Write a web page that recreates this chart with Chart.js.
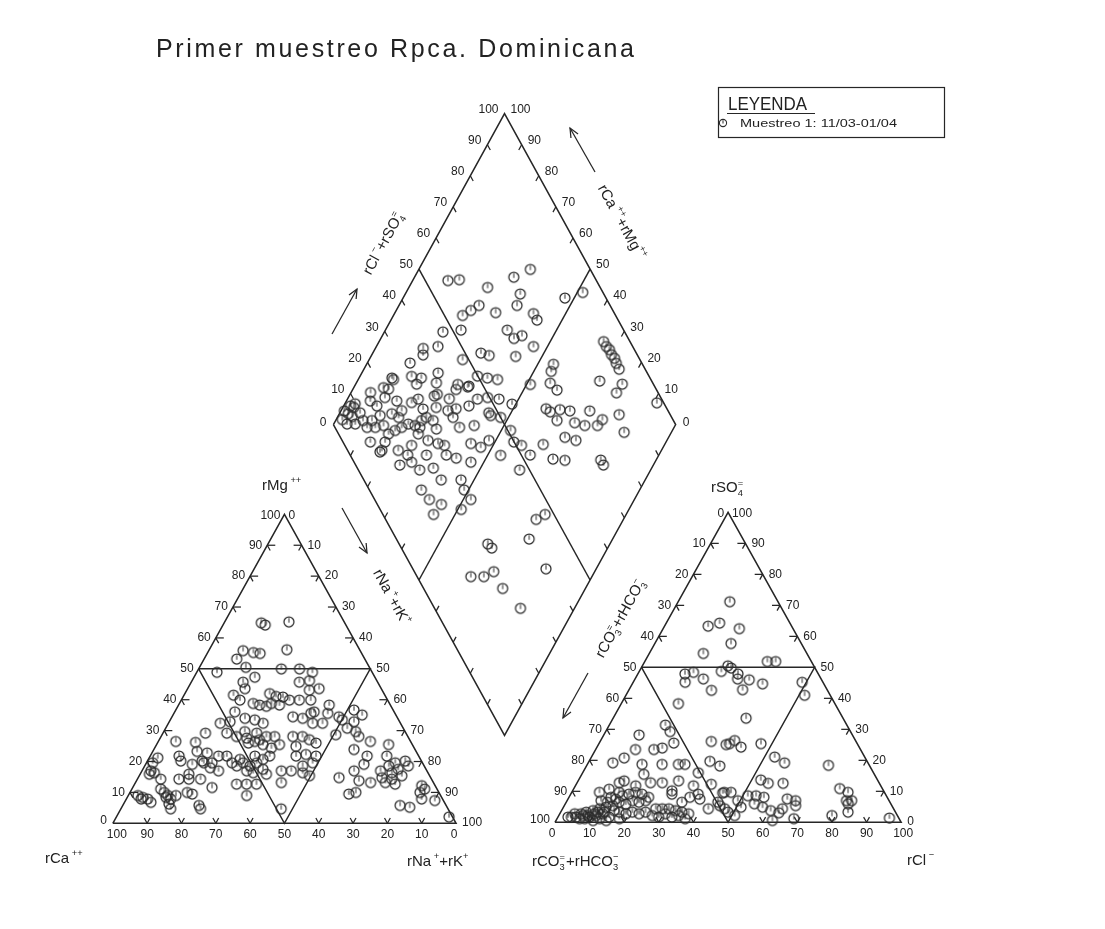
<!DOCTYPE html>
<html><head><meta charset="utf-8">
<script src="https://cdn.jsdelivr.net/npm/chart.js@4.4.1/dist/chart.umd.min.js"></script>
<style>html,body{margin:0;padding:0;background:#fff}#wrap{width:1105px;height:929px}</style>
</head><body><div id="wrap"><canvas id="c" width="1105" height="929"></canvas></div>
<script>
// ================= DATA (percent, meq) =================
const titleText = 'Primer muestreo Rpca. Dominicana';
const legendTitle = 'LEYENDA';
const legendEntry = 'Muestreo 1: 11/03-01/04';
const tickValues = [0,10,20,30,40,50,60,70,80,90,100];
// cation triangle samples: [rMg %, rNa+rK %]  (rCa = remainder)
const cationMgNaK = [
[48.9,5.9],[50.5,13.5],[50.0,24.1],[50.0,29.4],[48.9,33.7],[53.2,9.5],[45.7,15.1],[47.3,17.7],[43.6,16.7],[42.0,24.7],[41.1,27.0],[40.9,29.1],[38.8,26.8],[38.3,29.4],[39.9,31.5],[39.9,34.4],[43.1,35.7],[39.9,37.7],[43.6,38.3],[41.5,14.4],[39.9,17.1],[38.8,21.5],[38.3,23.6],[37.9,25.8],[36.1,17.5],[32.4,15.1],[32.9,17.7],[34.0,21.5],[33.5,24.6],[32.4,27.6],[34.5,35.2],[34.0,38.3],[35.6,39.9],[32.4,42.0],[29.2,18.6],[28.1,22.0],[29.7,23.6],[27.6,25.2],[29.2,27.3],[27.1,29.2],[28.1,30.7],[28.1,33.1],[25.5,35.8],[24.4,34.0],[25.5,31.0],[26.5,28.1],[26.0,26.5],[28.1,38.4],[24.9,40.9],[28.1,41.2],[27.1,43.7],[26.0,46.2],[21.8,42.5],[22.3,45.1],[21.8,48.3],[18.6,46.0],[19.6,48.4],[16.4,47.1],[15.4,49.6],[21.8,22.3],[19.6,24.9],[18.6,26.8],[19.6,28.2],[18.6,30.7],[19.6,32.1],[20.7,33.4],[21.8,34.8],[17.5,35.0],[16.4,32.7],[17.0,30.5],[20.7,26.7],[21.8,30.5],[12.7,29.7],[12.7,32.6],[9.0,34.5],[12.7,35.5],[15.9,36.8],[17.0,40.6],[13.2,42.5],[17.0,43.5],[4.7,46.7],[26.5,5.1],[26.2,11.0],[29.2,12.4],[23.3,12.9],[22.8,16.1],[21.8,19.9],[19.6,19.1],[17.0,22.3],[19.6,16.7],[21.2,2.5],[19.6,1.8],[17.0,2.6],[15.9,2.7],[16.4,3.9],[14.3,6.8],[21.8,8.4],[20.2,9.7],[19.1,13.6],[20.2,15.9],[18.0,19.4],[14.3,12.1],[14.3,15.0],[14.3,18.4],[11.6,23.1],[15.9,14.2],[9.0,2.8],[8.4,4.5],[7.9,6.2],[6.8,7.7],[7.9,4.3],[11.1,8.4],[10.0,10.0],[9.0,11.5],[7.9,12.9],[8.4,11.3],[6.3,13.2],[9.0,13.9],[4.7,14.5],[10.0,16.7],[9.5,18.4],[5.8,22.2],[4.7,23.2],
[64.9,10.8],[64.2,12.3],[65.2,18.7],[55.9,10.0],[55.3,13.3],[55.0,15.4],[56.2,22.6],
[45.7,31.5],[46.2,34.2],[38.3,43.9],[36.1,40.6],[35.6,44.8],[34.5,48.6],[33.5,50.1],[32.4,44.9],[36.7,51.9],[35.1,55.1],[32.9,53.8],[30.8,52.9],[29.7,55.9],[28.1,57.6],[26.5,61.8],[23.9,58.3],[28.7,50.6],[21.8,63.2],[19.1,63.6],[17.0,61.8],[14.8,58.5],[13.8,64.8],[13.2,68.5],[9.5,64.0],[10.0,65.8],[17.0,69.5],[21.8,68.9],[18.6,71.1],[16.4,73.1],[19.6,72.5],[17.5,74.4],[15.4,76.5],[14.3,74.1],[13.2,72.8],[14.8,71.0],[12.7,75.9],[20.2,75.1],[18.6,76.8],[25.5,67.6],[12.2,83.9],[10.0,84.5],[11.1,85.3],[7.9,86.0],[7.4,90.1],[5.8,80.8],[5.2,83.9],[2.1,96.9]
];
// anion triangle samples: [rSO4 %, rCl %]  (rCO3+rHCO3 = remainder)
const anionSO4Cl = [
[71.2,14.9],[63.3,12.6],[64.3,15.4],[62.5,22.0],[57.7,22.0],[54.5,15.6],[51.9,35.4],[51.9,37.8],[50.5,24.7],[49.8,26.0],[48.7,23.7],[47.9,28.9],
[47.9,13.6],[48.4,15.8],[46.3,19.7],[45.2,15.0],[42.6,23.9],[38.3,16.5],[31.4,16.2],[29.3,18.6],[28.2,10.2],[25.6,21.5],[26.1,32.1],[25.1,36.9],[24.0,19.0],[23.5,16.8],[23.5,11.5],[20.8,9.6],[18.7,15.8],[19.2,7.1],[18.7,21.6],[18.7,26.3],[18.7,28.2],[19.7,34.9],[18.2,38.5],[16.0,33.4],[13.4,29.0],[12.8,24.6],[12.8,21.2],[11.8,17.4],[13.4,13.3],[12.8,12.2],[15.5,17.9],[9.7,8.0],[10.7,10.3],[9.7,13.7],[10.2,28.7],[9.1,29.2],[11.8,34.1],[12.3,39.0],[9.1,36.8],[4.4,42.1],[6.5,33.4],[8.1,34.9],[7.5,38.1],[9.7,44.1],[5.4,44.9],
[1.7,2.9],[1.7,5.3],[2.2,7.0],[1.7,9.1],[2.2,10.8],[2.8,12.4],[1.7,14.8],[3.3,7.4],[3.8,9.1],[4.4,10.7],[4.9,12.3],[5.4,14.0],[6.5,15.3],[5.9,17.5],[7.0,18.9],[6.5,21.0],[7.0,22.7],[3.3,16.9],[2.8,19.1],[3.3,20.7],[2.8,22.9],[3.3,24.5],[2.2,27.0],[1.7,29.1],[2.8,30.5],[1.7,32.9],[2.2,34.6],[1.2,37.0],[8.1,12.1],[7.5,13.8],[8.6,15.2],[9.1,16.8],[9.7,18.4],[9.1,20.6],[8.1,23.0],[4.4,26.9],[4.4,28.8],[4.4,30.7],[3.8,32.9],[3.3,35.0],[2.8,37.2],[1.2,6.5],[2.8,4.3],[1.2,12.3],[0.6,14.5],[0.6,10.7],[1.2,18.0],[2.8,6.2],[2.2,8.4],[2.8,10.0],[1.2,8.0],[3.3,10.7],[3.3,12.6],[1.7,3.9],[3.8,15.2],[6.5,11.9],[7.0,9.8],
[46.3,29.6],[46.0,33.1],[44.7,37.6],[42.8,32.8],[45.2,48.8],[41.0,51.6],[33.6,38.4],[25.4,37.7],[26.4,38.7],[24.3,41.6],[25.4,46.8],[21.1,52.9],[19.2,56.7],[18.4,69.8],[13.7,52.6],[12.6,55.3],[12.6,59.6],[9.5,43.7],[9.7,46.0],[7.0,49.3],[8.6,51.4],[8.6,53.8],[8.1,56.3],[6.0,54.6],[4.9,57.5],[7.6,63.3],[7.0,66.0],[5.4,66.8],[3.8,60.4],[3.1,63.1],[4.4,63.5],[0.6,62.5],[1.2,68.4],[2.2,78.9],[10.9,76.8],[9.7,79.8],[7.0,80.7],[7.0,82.2],[6.0,81.7],[3.3,83.0],[1.4,95.9],[6.5,43.8],[4.4,46.8],[3.3,48.3],[2.2,50.8],[4.9,51.3]
];
// diamond samples: [rNa+rK %, rCl+rSO4 %]
const diamondNaKClSO4 = [
[10.3,56.6],[13.5,60.1],[23.0,67.1],[20.2,55.3],[21.8,58.5],[23.4,61.7],[29.4,65.4],[17.1,46.9],[22.1,52.5],[14.0,38.5],[15.0,37.4],[18.0,43.1],[27.3,48.2],[31.6,54.6],[34.4,56.6],[29.0,76.4],[32.6,82.5],[33.6,75.6],[34.5,72.8],[40.6,76.3],[42.7,76.3],[35.6,66.0],[38.9,66.6],[40.8,69.4],[45.9,71.0],[42.3,64.2],[34.3,49.9],[37.5,52.5],[40.7,55.2],[33.2,45.3],[22.3,38.9],[23.4,36.8],[25.5,35.2],[15.1,30.6],[10.3,24.8],[29.9,42.8],[30.2,41.5],[29.7,38.0],[33.3,38.4],[33.4,45.8],[36.6,42.6],[38.0,46.2],[40.7,49.4],[44.3,52.5],[43.5,47.3],[44.5,47.4],[47.7,50.0],[48.9,55.5],[51.1,64.0],[52.7,50.8],[55.5,49.9],[41.3,41.0],[43.2,37.1],[48.0,42.9],[37.3,36.4],[33.8,36.1],[31.2,35.7],[24.9,34.1],[27.3,32.8],
[3.2,8.7],[2.0,8.0],[3.0,9.7],[3.9,4.1],[6.3,6.5],[13.6,8.0],[18.0,9.2],[18.3,10.0],[23.1,14.8],[26.2,19.5],[7.0,14.6],[9.7,15.7],[12.2,15.1],[10.6,11.9],[10.3,9.4],[12.7,11.8],[14.8,14.5],[15.3,18.8],[17.9,20.2],[17.7,22.2],[14.7,22.3],[10.7,19.4],[19.3,26.4],[20.7,28.9],[23.7,28.7],[25.1,26.4],[26.0,28.3],[28.5,29.8],[30.8,29.4],[24.0,23.7],[26.3,23.3],[25.7,24.8],[21.8,22.0],[20.4,19.5],[19.0,17.1],[17.6,14.6],[17.9,12.3],[30.2,25.1],[33.6,27.5],[35.8,29.1],[9.6,24.6],[8.7,20.6],[10.4,21.8],[5.7,16.0],[12.5,32.3],[17.8,30.8],[18.2,33.2],
[26.6,16.8],[32.5,17.9],[36.2,22.2],[40.4,22.6],[40.1,16.0],[43.7,14.8],[44.4,18.7],[46.2,28.4],[48.7,27.7],[52.2,28.1],[51.0,23.7],[36.2,15.2],[37.9,28.1],[41.3,30.5],[46.2,34.1],[46.7,39.4],[53.8,43.9],[25.9,12.9],[28.9,16.8],[32.1,22.3],
[64.3,25.9],[66.1,26.4],[68.4,19.5],[64.6,15.7],[70.5,23.2],[84.2,25.1],[75.8,23.1],[85.3,38.9],[75.6,38.8],[76.3,47.4],[74.5,44.0],
[47.3,88.0],[51.6,94.1],[54.6,74.0],[65.6,92.3],[67.2,92.3],[68.6,92.7],[70.0,92.5],[71.5,92.8],[72.8,92.5],[74.6,92.4],[77.9,90.9],[70.8,84.8],[77.6,87.8],[56.7,70.0],[59.8,70.9],[59.6,64.7],[61.3,65.4],[63.8,68.6],[66.9,71.3],[64.7,66.0],[70.2,70.8],[73.6,73.3],[69.7,65.6],[73.4,68.3],[72.7,77.1],[77.3,77.0],[77.8,79.4],[81.9,85.1],[86.2,83.7],[83.8,72.4],[85.4,72.4],[73.4,61.9],[69.7,58.6],[64.5,58.1],[62.4,52.6],[58.3,51.6],[61.7,47.1],[91.0,98.0],[55.1,72.2],
[1.0,5.4],[2.6,6.1],[4.2,6.8],[5.9,9.7],[8.0,9.3],[1.8,3.4]
];

// ================= LAYOUT (page units = px) =================
const CAT = {L:[108,828], R:[455,828], T:[281.5,515]};
const AN  = {L:[555,827], R:[905,827], T:[730,513]};
const DIA = {L:[331,424], T:[504,109], B:[504,739]};
const INK = '#262626';
const FONT = '"Liberation Sans", Arial, sans-serif';
function fnt(sz, w){ return (w||'normal') + ' ' + sz + 'px ' + FONT; }

function tern(G, wl, wr, wt){ // weights in percent for L, R, T corners
  return {x:(G.L[0]*wl + G.R[0]*wr + G.T[0]*wt)/100, y:(G.L[1]*wl + G.R[1]*wr + G.T[1]*wt)/100};
}
function dia(u, v){ // u = rCl+rSO4 %, v = rNa+rK %
  return {x: DIA.L[0] + (DIA.T[0]-DIA.L[0])*u/100 + (DIA.B[0]-DIA.L[0])*v/100,
          y: DIA.L[1] + (DIA.T[1]-DIA.L[1])*u/100 + (DIA.B[1]-DIA.L[1])*v/100};
}
const catPts = cationMgNaK.map(d => tern(CAT, 100-d[0]-d[1], d[1], d[0]));
const anPts  = anionSO4Cl.map(d => tern(AN, 100-d[0]-d[1], d[1], d[0]));
const diaPts = diamondNaKClSO4.map(d => dia(d[1], d[0]));

function makeMarker(r, lw){
  const s = Math.ceil(r*2+4), c = document.createElement('canvas'); c.width = s; c.height = s;
  const g = c.getContext('2d'); g.strokeStyle = '#2c2c2c'; g.lineWidth = lw;
  g.beginPath(); g.arc(s/2, s/2, r, 0, Math.PI*2); g.stroke();
  g.lineWidth = 1;
  g.beginPath(); g.moveTo(s/2, s/2 - r*0.75); g.lineTo(s/2, s/2 + r*0.15); g.stroke();
  return c;
}
const marker = makeMarker(5, 1.25);
const markerSmall = makeMarker(3.6, 1.1);

function lineDS(pts){ return {data:pts, showLine:true, pointRadius:0, borderColor:INK, borderWidth:1.5, tension:0, fill:false, order:2}; }
function ptsDS(pts){ return {data:pts, showLine:false, pointStyle:marker, pointRadius:5, order:1}; }

const frames = [];
[CAT, AN].forEach(G => {
  frames.push(lineDS([tern(G,100,0,0), tern(G,0,100,0), tern(G,0,0,100), tern(G,100,0,0)]));
  frames.push(lineDS([tern(G,50,0,50), tern(G,0,50,50), tern(G,50,50,0), tern(G,50,0,50)]));
});
frames.push(lineDS([dia(0,0), dia(100,0), dia(100,100), dia(0,100), dia(0,0)]));
frames.push(lineDS([dia(50,0), dia(50,100)]));
frames.push(lineDS([dia(0,50), dia(100,50)]));

function unit(a, b){ const dx=b[0]-a[0], dy=b[1]-a[1], l=Math.hypot(dx,dy); return [dx/l, dy/l]; }

function segW(ctx, s, size){
  if (s[1]==='s'){ ctx.font = fnt(size*0.62); return Math.max(ctx.measureText(s[0]).width, ctx.measureText(s[2]).width)+1; }
  ctx.font = fnt(s[1]==='n' ? size : size*0.62); return ctx.measureText(s[0]).width;
}
function drawRich(ctx, segs, x, y, size, align){
  const w = segs.reduce((a,s)=>a+segW(ctx,s,size),0);
  let cx = align==='center' ? x - w/2 : (align==='right' ? x - w : x);
  ctx.textAlign = 'left'; ctx.textBaseline = 'alphabetic';
  for (const s of segs){
    const sw = segW(ctx,s,size);
    if (s[1]==='n'){ ctx.font = fnt(size); ctx.fillText(s[0], cx, y); }
    else if (s[1]==='p'){ ctx.font = fnt(size*0.62); ctx.fillText(s[0], cx, y - size*0.48); }
    else if (s[1]==='b'){ ctx.font = fnt(size*0.62); ctx.fillText(s[0], cx, y + size*0.22); }
    else { ctx.font = fnt(size*0.62); ctx.fillText(s[0], cx, y - size*0.42); ctx.fillText(s[2], cx, y + size*0.25); }
    cx += sw;
  }
}

const decor = {
  id: 'decor',
  beforeDraw(chart){ const c = chart.ctx; c.save(); c.fillStyle = '#fff'; c.fillRect(0,0,chart.width,chart.height); c.restore(); },
  afterDatasetsDraw(chart){
    const ctx = chart.ctx, sx = chart.scales.x, sy = chart.scales.y;
    const P = p => [sx.getPixelForValue(p.x), sy.getPixelForValue(p.y)];
    ctx.save();
    ctx.strokeStyle = INK; ctx.fillStyle = '#222'; ctx.lineWidth = 1.25;
    const seg = (a, d, len) => { ctx.beginPath(); ctx.moveTo(a[0], a[1]); ctx.lineTo(a[0]+d[0]*len, a[1]+d[1]*len); ctx.stroke(); };
    const text = (t, x, y, align, base, size) => { ctx.font = fnt(size||12); ctx.textAlign = align; ctx.textBaseline = base||'middle'; ctx.fillText(t, x, y); };

    // ---- triangles: ticks + labels ----
    [CAT, AN].forEach((G, gi) => {
      const L = P(tern(G,100,0,0)), R = P(tern(G,0,100,0)), T = P(tern(G,0,0,100));
      const dTR = unit(T,R), dTL = unit(T,L), dLT = unit(L,T), dRT = unit(R,T);
      tickValues.forEach(k => {
        const pl = gi===0 ? P(tern(G,100-k,0,k)) : P(tern(G,k,0,100-k));
        const pr = gi===0 ? P(tern(G,0,k,100-k)) : P(tern(G,0,100-k,k));
        const pb = gi===0 ? P(tern(G,k,100-k,0)) : P(tern(G,100-k,k,0));
        if (k>0 && k<100 && k!==50){
          seg(pl,[1,0],8); seg(pl,dTR,6);
          seg(pr,[-1,0],8); seg(pr,dTL,6);
          seg(pb,dRT,6); seg(pb,dLT,6);
        }
        const lab = String(k);
        if (gi===0){
          if (k===100) text(lab, pl[0]-4, pl[1]+1, 'right');
          else if (k===0) text(lab, pl[0]-6, pl[1]-3, 'right');
          else text(lab, pl[0]-5, pl[1], 'right');
        } else {
          if (k===0) text(lab, pl[0]-4, pl[1]+1, 'right');
          else if (k===100) text(lab, pl[0]-5, pl[1]-3, 'right');
          else text(lab, pl[0]-5, pl[1], 'right');
        }
        if ((gi===0 && k===0) || (gi===1 && k===100)) text(lab, pr[0]+4, pr[1]+1, 'left');
        else if ((gi===0 && k===100) || (gi===1 && k===0)) text(lab, pr[0]+6, pr[1]-1, 'left');
        else text(lab, pr[0]+6, pr[1], 'left');
        let bx = pb[0];
        if (gi===0 && k===100) bx += 4;
        if (gi===1 && k===0) bx -= 3;
        if (gi===0 && k===0) bx -= 2;
        if (gi===1 && k===100) bx += 2;
        text(lab, bx, pb[1]+5, 'center', 'top');
      });
    });

    // ---- diamond ticks + labels ----
    const dL = P(dia(0,0)), dT = P(dia(100,0)), dB = P(dia(0,100));
    const uIso = unit(dL, dB), vIso = unit(dL, dT);
    tickValues.forEach(k => {
      if (k>0 && k<100 && k!==50){
        seg(P(dia(k,0)), uIso, 6);
        seg(P(dia(100,k)), [-vIso[0], -vIso[1]], 6);
        seg(P(dia(0,k)), vIso, 6);
        seg(P(dia(k,100)), [-uIso[0], -uIso[1]], 6);
      }
      const a = P(dia(k,0));
      if (k===0) text('0', a[0]-7, a[1]-2, 'right');
      else text(String(k), a[0]-6, a[1]-4, 'right');
      const b = P(dia(100, 100-k));
      if (k===0) text('0', b[0]+7, b[1]-2, 'left');
      else text(String(k), b[0]+6, b[1]-4, 'left');
    });

    // ---- axis names ----
    const S = 15;
    drawRich(ctx, [['rMg','n'],[' ++','p']], 262, 490, S, 'left');
    drawRich(ctx, [['rCa','n'],[' ++','p']], 45, 863, S, 'left');
    drawRich(ctx, [['rNa','n'],[' +','p'],['+rK','n'],['+','p']], 407, 866, S, 'left');
    drawRich(ctx, [['rSO','n'],['=','s','4']], 711, 492, S, 'left');
    drawRich(ctx, [['rCO','n'],['=','s','3'],['+rHCO','n'],['−','s','3']], 532, 866, S, 'left');
    drawRich(ctx, [['rCl','n'],[' −','p']], 907, 865, S, 'left');

    // ---- rotated diamond labels + arrows ----
    const ang = Math.atan2(dT[1]-dL[1], dT[0]-dL[0]);
    const rot = (x, y, a, segs) => { ctx.save(); ctx.translate(x, y); ctx.rotate(a); drawRich(ctx, segs, 0, 5, S, 'center'); ctx.restore(); };
    rot(383, 243, ang, [['rCl','n'],[' −','p'],['+rSO','n'],['=','s','4']]);
    rot(622, 222, -ang, [['rCa','n'],[' ++','p'],['+rMg','n'],['++','p']]);
    rot(392, 597, -ang, [['rNa','n'],[' +','p'],['+rK','n'],['+','p']]);
    rot(620, 618, ang, [['rCO','n'],['=','s','3'],['+rHCO','n'],['−','s','3']]);

    const arrow = (x1, y1, x2, y2) => {
      ctx.beginPath(); ctx.moveTo(x1,y1); ctx.lineTo(x2,y2); ctx.stroke();
      const a = Math.atan2(y2-y1, x2-x1), h = 10, w = 0.42;
      ctx.beginPath(); ctx.moveTo(x2 - h*Math.cos(a-w), y2 - h*Math.sin(a-w)); ctx.lineTo(x2,y2);
      ctx.lineTo(x2 - h*Math.cos(a+w), y2 - h*Math.sin(a+w)); ctx.stroke();
    };
    arrow(332, 334, 357, 289);
    arrow(595, 172, 570, 128);
    arrow(342, 508, 367, 553);
    arrow(588, 673, 563, 718);

    // ---- title ----
    ctx.font = fnt(25); ctx.textAlign = 'left'; ctx.textBaseline = 'alphabetic';
    const chars = [...titleText];
    const tw = ctx.measureText(titleText).width;
    const gap = (478 - tw) / (chars.length - 1);
    let tx = 156;
    chars.forEach(ch => { ctx.fillText(ch, tx, 57); tx += ctx.measureText(ch).width + gap; });

    // ---- legend ----
    ctx.lineWidth = 1.2; ctx.strokeRect(718.5, 87.5, 226, 50);
    ctx.font = fnt(18);
    const lw = ctx.measureText(legendTitle).width;
    ctx.save(); ctx.translate(728, 110); ctx.scale(79/lw, 1); ctx.fillText(legendTitle, 0, 0); ctx.restore();
    ctx.beginPath(); ctx.moveTo(727, 113.5); ctx.lineTo(815, 113.5); ctx.stroke();
    ctx.drawImage(markerSmall, 723 - markerSmall.width/2, 123 - markerSmall.height/2);
    ctx.font = fnt(11);
    const ew = ctx.measureText(legendEntry).width;
    ctx.save(); ctx.translate(740, 127); ctx.scale(157/ew, 1); ctx.fillText(legendEntry, 0, 0); ctx.restore();
    ctx.restore();
  }
};

new Chart(document.getElementById('c'), {
  type: 'scatter',
  data: { datasets: [...frames, ptsDS(catPts), ptsDS(anPts), ptsDS(diaPts)] },
  options: {
    responsive: false, animation: false, events: [],
    layout: { padding: 0 },
    scales: {
      x: { type: 'linear', min: 0, max: 1105, display: false },
      y: { type: 'linear', min: 0, max: 929, reverse: true, display: false }
    },
    plugins: { legend: { display: false }, tooltip: { enabled: false } }
  },
  plugins: [decor]
});
</script></body></html>
